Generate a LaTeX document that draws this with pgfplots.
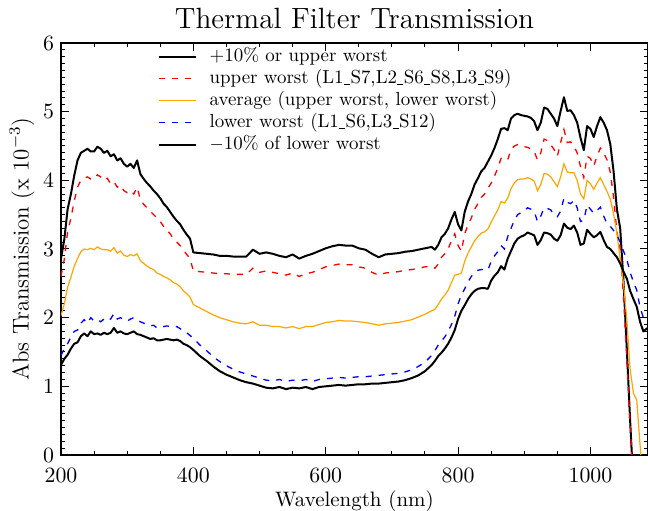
\documentclass[border=0pt]{standalone}
\usepackage{pgfplots}
\pgfplotsset{compat=1.18}
\usepackage{pgfplotstable}
\definecolor{idlorange}{RGB}{255,165,0}
\definecolor{idlred}{RGB}{255,0,0}
\definecolor{idlblue}{RGB}{0,0,255}
\newcommand{\us}{\kern0.02em\rule[-0.12ex]{0.32em}{0.35pt}\kern0.02em}

\pgfplotstableread{
x U L A Hi Lo
200 2.60 1.45 2.03 2.86 1.31
205 2.85 1.55 2.20 3.14 1.40
210 3.25 1.62 2.44 3.58 1.46
215 3.45 1.72 2.59 3.80 1.55
220 3.70 1.80 2.75 4.07 1.62
225 3.90 1.82 2.86 4.29 1.64
230 4.00 1.92 2.96 4.40 1.73
235 4.03 1.97 3.00 4.43 1.77
240 4.05 1.92 2.99 4.46 1.73
245 4.02 2.00 3.01 4.42 1.80
250 4.02 1.95 2.99 4.42 1.76
255 4.08 1.97 3.03 4.49 1.77
260 4.05 1.94 3.00 4.46 1.75
265 4.00 1.98 2.99 4.40 1.78
270 4.03 1.95 2.99 4.43 1.76
275 3.95 1.98 2.97 4.35 1.78
280 3.98 2.06 3.02 4.38 1.85
285 3.90 1.98 2.94 4.29 1.78
290 3.93 2.00 2.97 4.32 1.80
295 3.85 1.97 2.91 4.24 1.77
300 3.82 1.95 2.89 4.20 1.76
305 3.85 1.98 2.92 4.24 1.78
310 3.80 2.00 2.90 4.18 1.80
315 3.90 1.96 2.93 4.29 1.76
320 3.72 1.94 2.83 4.09 1.75
325 3.65 1.92 2.79 4.02 1.73
330 3.60 1.90 2.75 3.96 1.71
335 3.55 1.88 2.72 3.91 1.69
340 3.50 1.89 2.70 3.85 1.70
345 3.45 1.85 2.65 3.80 1.67
350 3.40 1.86 2.63 3.74 1.67
355 3.33 1.87 2.60 3.66 1.68
360 3.28 1.88 2.58 3.61 1.69
365 3.22 1.87 2.55 3.54 1.68
370 3.15 1.86 2.51 3.47 1.67
375 3.10 1.87 2.49 3.41 1.68
380 3.05 1.84 2.45 3.36 1.66
385 2.98 1.80 2.39 3.28 1.62
390 2.92 1.78 2.35 3.21 1.60
395 2.86 1.74 2.30 3.15 1.57
400 2.68 1.70 2.19 2.95 1.53
410 2.67 1.60 2.14 2.94 1.44
420 2.66 1.52 2.09 2.93 1.37
430 2.65 1.43 2.04 2.92 1.29
440 2.64 1.36 2.00 2.90 1.22
450 2.64 1.30 1.97 2.90 1.17
460 2.63 1.25 1.94 2.89 1.13
470 2.63 1.21 1.92 2.89 1.09
480 2.63 1.18 1.91 2.89 1.06
490 2.72 1.15 1.94 2.99 1.04
500 2.66 1.12 1.89 2.93 1.01
510 2.68 1.09 1.89 2.95 0.98
520 2.66 1.08 1.87 2.93 0.97
530 2.64 1.10 1.87 2.90 0.99
540 2.62 1.07 1.85 2.88 0.96
550 2.65 1.09 1.87 2.92 0.98
560 2.60 1.08 1.84 2.86 0.97
570 2.64 1.10 1.87 2.90 0.99
580 2.66 1.07 1.87 2.93 0.96
590 2.70 1.10 1.90 2.97 0.99
600 2.74 1.11 1.93 3.01 1.00
610 2.76 1.12 1.94 3.04 1.01
620 2.78 1.13 1.96 3.06 1.02
630 2.77 1.12 1.95 3.05 1.01
640 2.77 1.13 1.95 3.05 1.02
650 2.74 1.14 1.94 3.01 1.03
660 2.72 1.14 1.93 2.99 1.03
670 2.66 1.15 1.91 2.93 1.04
680 2.62 1.16 1.89 2.88 1.04
690 2.65 1.17 1.91 2.92 1.05
700 2.66 1.18 1.92 2.93 1.06
710 2.67 1.19 1.93 2.94 1.07
720 2.69 1.21 1.95 2.96 1.09
730 2.70 1.24 1.97 2.97 1.12
740 2.72 1.29 2.01 2.99 1.16
750 2.74 1.35 2.05 3.01 1.22
760 2.75 1.45 2.10 3.03 1.31
765 2.72 1.52 2.12 2.99 1.37
770 2.78 1.60 2.19 3.06 1.44
775 2.88 1.66 2.27 3.17 1.49
780 2.93 1.72 2.33 3.22 1.55
785 3.00 1.80 2.40 3.30 1.62
790 3.12 1.90 2.51 3.43 1.71
795 3.22 2.02 2.62 3.54 1.82
800 3.05 2.20 2.63 3.36 1.98
805 2.97 2.33 2.65 3.27 2.10
810 3.22 2.42 2.82 3.54 2.18
815 3.35 2.52 2.94 3.69 2.27
820 3.45 2.60 3.03 3.80 2.34
825 3.58 2.65 3.12 3.94 2.39
830 3.66 2.69 3.18 4.03 2.42
835 3.75 2.70 3.23 4.13 2.43
840 3.80 2.70 3.25 4.18 2.43
845 3.88 2.69 3.29 4.27 2.42
850 3.96 2.82 3.39 4.36 2.54
855 4.06 2.90 3.48 4.47 2.61
860 4.18 2.96 3.57 4.60 2.66
865 4.32 3.05 3.69 4.75 2.75
870 4.33 3.00 3.67 4.76 2.70
875 4.30 3.18 3.74 4.73 2.86
880 4.45 3.30 3.88 4.90 2.97
885 4.50 3.42 3.96 4.95 3.08
890 4.52 3.50 4.01 4.97 3.15
895 4.50 3.53 4.02 4.95 3.18
900 4.49 3.55 4.02 4.94 3.20
905 4.48 3.60 4.04 4.93 3.24
910 4.46 3.58 4.02 4.91 3.22
915 4.42 3.55 3.99 4.86 3.20
920 4.30 3.40 3.85 4.73 3.06
925 4.40 3.48 3.94 4.84 3.13
930 4.60 3.60 4.10 5.06 3.24
935 4.58 3.59 4.09 5.04 3.23
940 4.52 3.57 4.05 4.97 3.21
945 4.45 3.50 3.98 4.90 3.15
950 4.35 3.47 3.91 4.79 3.12
955 4.55 3.55 4.05 5.01 3.20
960 4.74 3.74 4.24 5.21 3.37
965 4.55 3.68 4.12 5.01 3.31
970 4.56 3.66 4.11 5.02 3.29
975 4.50 3.71 4.11 4.95 3.34
980 4.40 3.60 4.00 4.84 3.24
985 4.20 3.40 3.80 4.62 3.06
990 4.04 3.42 3.73 4.44 3.08
995 4.35 3.64 4.00 4.79 3.28
1000 4.32 3.58 3.95 4.75 3.22
1005 4.21 3.52 3.87 4.63 3.17
1010 4.35 3.56 3.96 4.79 3.20
1015 4.47 3.61 4.04 4.92 3.25
1020 4.40 3.48 3.94 4.84 3.13
1025 4.30 3.37 3.84 4.73 3.03
1030 4.12 3.33 3.73 4.53 3.00
1035 3.75 3.27 3.51 4.13 2.94
1040 3.25 3.20 3.23 3.58 2.88
1045 3.00 3.10 2.85 3.30 2.79
1050 2.30 2.97 2.50 2.53 2.67
1055 1.40 2.85 1.97 1.54 2.57
1060 0.45 2.66 1.25 0.50 2.39
1065 -0.40 2.52 0.90 -0.44 2.27
1070 -1.20 2.40 0.80 -1.32 2.16
1075 nan 2.15 0.15 nan 1.94
1080 nan 2.00 -0.50 nan 1.80
1085 nan 2.02 nan nan 1.84
1090 nan 2.05 nan nan 1.86
}\data

\begin{document}
\begin{tikzpicture}
\begin{axis}[
  scale only axis,
  width=293.5bp, height=206bp,
  xmin=200, xmax=1087, ymin=0, ymax=6,
  xtick={200,400,...,1000},
  ytick={0,1,...,6},
  minor x tick num=3,
  minor y tick num=9,
  tick align=inside,
  major tick length=4bp,
  minor tick length=2.2bp,
  every tick/.style={black, line width=0.5bp},
  axis line style={line width=0.7bp},
  ticklabel style={font=\fontsize{11}{13}\selectfont},
  xticklabel style={yshift=-3bp, /pgf/number format/1000 sep={}},
  xlabel={Wavelength (nm)},
  ylabel={Abs Transmission (x 10$^{-3}$)},
  xlabel style={font=\fontsize{10.5}{12}\selectfont, yshift=2.5bp},
  ylabel style={font=\fontsize{11.5}{13}\selectfont, yshift=-2.5bp},
  title={Thermal Filter Transmission},
  title style={font=\fontsize{14.7}{16}\selectfont, yshift=-2.5bp},
  clip=true,
  legend style={draw=none, fill=none, at={(axis description cs:0.164,0.993)}, anchor=north west,
    font=\fontsize{9.5}{11}\selectfont, inner sep=0pt, row sep=0.5bp,
    nodes={inner sep=0.5bp, text height=7.2bp, text depth=2.3bp}},
  legend cell align=left,
  legend image code/.code={\draw[#1] (0bp,0bp) -- (18.5bp,0bp);},
  /tikz/every odd column/.append style={column sep=6bp},
]
\addplot[black, line width=1bp, line join=round] table[x=x, y=Hi]{\data};
\addlegendentry{+10\% or upper worst}
\addplot[idlred, line width=0.65bp, dash pattern=on 3bp off 3.5bp] table[x=x, y=U]{\data};
\addlegendentry{upper worst (L1\us S7,L2\us S6\us S8,L3\us S9)}
\addplot[idlorange, line width=0.6bp] table[x=x, y=A]{\data};
\addlegendentry{average (upper worst, lower worst)}
\addplot[idlblue, line width=0.65bp, dash pattern=on 3bp off 3.5bp] table[x=x, y=L]{\data};
\addlegendentry{lower worst (L1\us S6,L3\us S12)}
\addplot[black, line width=1bp, line join=round] table[x=x, y=Lo]{\data};
\addlegendentry{$-$10\% of lower worst}
\end{axis}
\pgfresetboundingbox
\path[use as bounding box] ([xshift=-30.5bp, yshift=-28bp]current axis.south west) rectangle ([yshift=21.5bp]current axis.north east);
\end{tikzpicture}
\end{document}
